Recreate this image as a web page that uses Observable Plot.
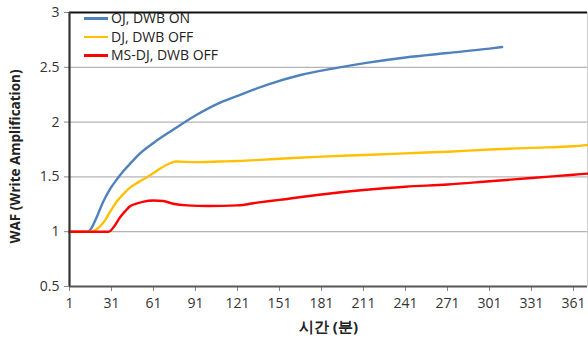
<!DOCTYPE html>
<html><head><meta charset="utf-8">
<script src="https://cdn.jsdelivr.net/npm/d3@7"></script>
<script src="https://cdn.jsdelivr.net/npm/@observablehq/plot@0.6"></script>
<style>
html,body{margin:0;padding:0;background:#fff;}
#wrap{position:relative;width:588px;height:338px;font-family:"Open Sans",sans-serif;}
#legend{position:absolute;left:84px;top:9px;font-size:14px;color:#222;line-height:18.5px;}
#legend div{display:flex;align-items:center;}
#legend span.sw{display:inline-block;width:24px;height:2.5px;margin-right:3px;}
</style></head>
<body><div id="wrap"><div id="legend"></div></div>
<script>
const seriesNames = ["OJ, DWB ON", "DJ, DWB OFF", "MS-DJ, DWB OFF"];
const seriesColors = ["#4f81bd", "#ffc000", "#ff0000"];
const xTicks = [1,31,61,91,121,151,181,211,241,271,301,331,361];
const yTicks = [0.5,1,1.5,2,2.5,3];

const ojMin = [1,14,17,20,25,30,35,40,45,51,61,75,91,109,121,142,166,190,213,241,271,301,310];
const ojWaf = [1.0,1.0,1.04,1.12,1.27,1.39,1.48,1.56,1.63,1.71,1.81,1.93,2.06,2.18,2.24,2.34,2.43,2.49,2.54,2.59,2.63,2.67,2.685];

const djMin = [1,17,20,25,30,35,40,44,50,58,65,72,77,91,108,121,151,181,211,241,271,301,331,361,371];
const djWaf = [1.0,1.0,1.02,1.08,1.18,1.28,1.35,1.40,1.45,1.51,1.57,1.62,1.64,1.635,1.64,1.645,1.665,1.685,1.70,1.715,1.73,1.75,1.765,1.78,1.79];

const msMin = [1,29,33,37,41,44,50,54,61,68,75,85,100,121,135,151,181,211,241,271,301,331,361,371];
const msWaf = [1.0,1.0,1.05,1.13,1.19,1.23,1.26,1.275,1.285,1.28,1.255,1.24,1.235,1.24,1.265,1.29,1.34,1.38,1.41,1.43,1.46,1.49,1.52,1.53];

const rows = [];
[[ojMin,ojWaf],[djMin,djWaf],[msMin,msWaf]].forEach(([xs,ys],k)=>{
  xs.forEach((x,i)=>rows.push({series:seriesNames[k], t:x, waf:ys[i]}));
});

const plot = Plot.plot({
  width:588, height:338,
  marginLeft:69, marginRight:1, marginTop:12, marginBottom:52,
  style:{fontFamily:"Open Sans, sans-serif", fontSize:"14px", color:"#333", background:"#fff"},
  x:{domain:[1,371], label:null},
  y:{domain:[0.5,3], label:null},
  color:{domain:seriesNames, range:seriesColors},
  marks:[
    Plot.gridY([1,1.5,2,2.5], {stroke:"#b4b4b4", strokeOpacity:1, strokeWidth:1.2}),
    Plot.ruleX([371], {stroke:"#d0d0d0", strokeWidth:1}),
    Plot.axisY({ticks:yTicks, tickFormat:d=>String(d), tickSize:5, tickPadding:5, stroke:"#888", fill:"#333", fontSize:14, label:null}),
    Plot.axisX({ticks:xTicks, tickFormat:d=>String(d), tickSize:5, tickPadding:7, stroke:"#888", fill:"#333", fontSize:14, label:null}),
    Plot.line(rows, {x:"t", y:"waf", z:"series", stroke:"series", strokeWidth:2.4, curve:"monotone-x"}),
    Plot.ruleY([3], {stroke:"#111", strokeWidth:2.2}),
    Plot.ruleY([0.5], {stroke:"#555", strokeWidth:2.2}),
    Plot.ruleX([1], {stroke:"#333", strokeWidth:2.2}),
    Plot.text(["시간 (분)"], {frameAnchor:"bottom", dy:45, fontWeight:"bold", fontSize:15, fill:"#222"}),
    Plot.text(["WAF (Write Amplification)"], {frameAnchor:"left", dx:-54, dy:7, rotate:-90, textAnchor:"middle", fontWeight:"bold", fontSize:13.5, fill:"#222"})
  ]
});
const wrap = document.getElementById("wrap");
wrap.insertBefore(plot, wrap.firstChild);
const lg = document.getElementById("legend");
seriesNames.forEach((n,i)=>{
  const d=document.createElement("div");
  d.innerHTML=`<span class="sw" style="background:${seriesColors[i]}"></span>${n}`;
  lg.appendChild(d);
});
</script></body></html>
